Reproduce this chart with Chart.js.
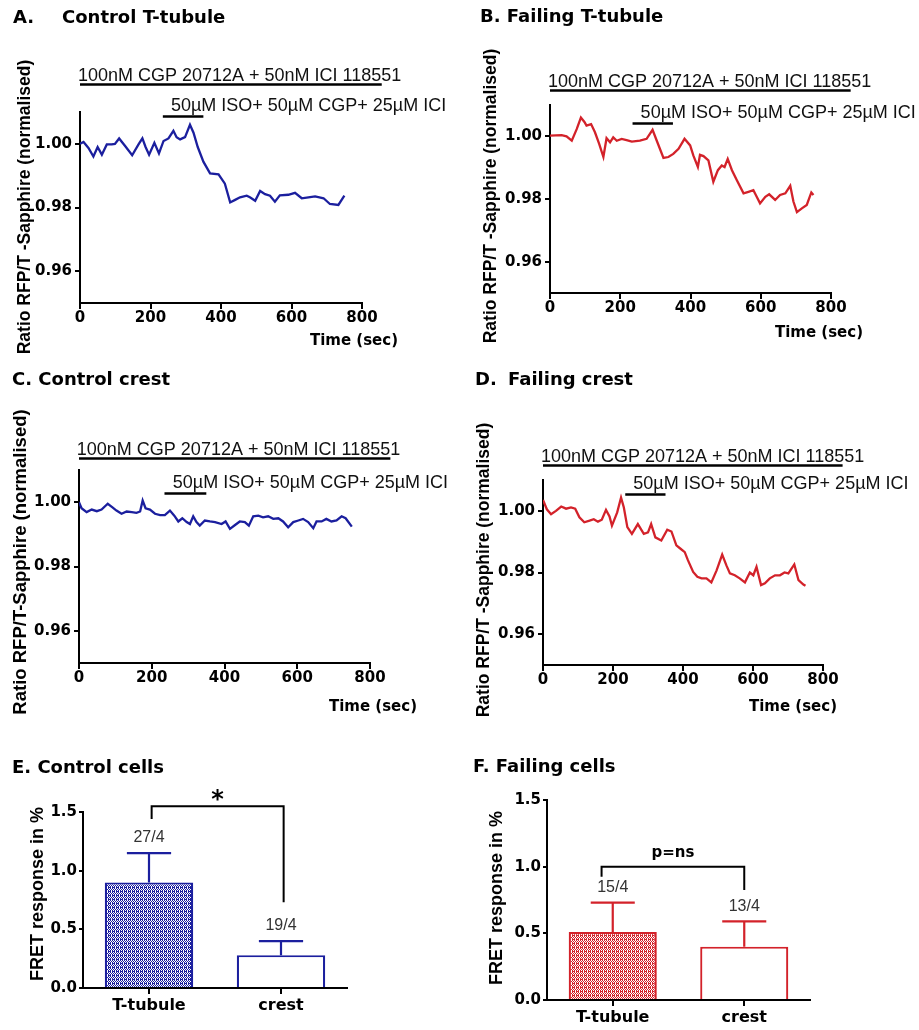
<!DOCTYPE html>
<html>
<head>
<meta charset="utf-8">
<script src="https://cdn.jsdelivr.net/npm/chart.js@4.4.1/dist/chart.umd.min.js"></script>
<style>
  html, body { margin: 0; padding: 0; background: #fff; }
  #figure { position: relative; width: 919px; height: 1030px; }
  #figure canvas { position: absolute; left: 0; top: 0; }
</style>
</head>
<body>
<div id="figure">
  <canvas id="panelA" width="919" height="1030"></canvas>
  <canvas id="panelB" width="919" height="1030"></canvas>
  <canvas id="panelC" width="919" height="1030"></canvas>
  <canvas id="panelD" width="919" height="1030"></canvas>
  <canvas id="panelE" width="919" height="1030"></canvas>
  <canvas id="panelF" width="919" height="1030"></canvas>
</div>
<script>
// ---- FRET ratio traces (time in sec, normalised RFP/T-Sapphire ratio) ----
const timeA = [0,10,24,38,50,62,76,90,99,111,128,148,166,177,186,196,211,224,237,251,265,274,284,298,312,322,334,350,369,393,411,426,440,454,473,482,497,511,525,539,553,567,591,610,629,648,667,691,709,733,750];
const ratioA = [1.000,1.0006,0.9987,0.9960,0.9990,0.9966,0.9998,0.9998,1.0000,1.0017,0.9993,0.9964,0.9998,1.0017,0.9990,0.9966,1.0003,0.9970,1.0009,1.0017,1.0041,1.0021,1.0014,1.0021,1.0060,1.0035,0.9990,0.9944,0.9907,0.9904,0.9875,0.9816,0.9824,0.9832,0.9837,0.9832,0.9821,0.9852,0.9842,0.9837,0.9818,0.9838,0.9840,0.9846,0.9829,0.9832,0.9835,0.9829,0.9811,0.9808,0.9837];

const timeB = [0,33,47,62,76,88,98,104,117,128,140,152,161,171,180,190,204,218,233,256,275,292,304,323,337,351,366,383,399,408,421,427,437,451,465,478,489,497,506,518,532,551,565,579,586,598,613,624,641,655,670,684,693,703,717,731,744,750];
const ratioB = [1.0002,1.0004,1.0000,0.9986,1.0023,1.0060,1.0046,1.0034,1.0039,1.0013,0.9976,0.9934,0.9994,0.9981,0.9997,0.9986,0.9992,0.9988,0.9983,0.9986,0.9992,1.0021,0.9986,0.9931,0.9934,0.9944,0.9960,0.9992,0.9971,0.9939,0.9902,0.9941,0.9937,0.9923,0.9855,0.9892,0.9907,0.9902,0.9928,0.9892,0.9860,0.9818,0.9823,0.9828,0.9813,0.9786,0.9807,0.9815,0.9797,0.9813,0.9818,0.9842,0.9792,0.9758,0.9770,0.9781,0.9821,0.9813];

const timeC = [0,7,21,35,49,62,79,92,103,117,131,145,158,168,175,183,195,209,223,236,250,262,273,284,296,305,314,323,332,346,360,374,392,403,415,429,442,456,467,479,493,506,520,534,548,561,575,589,603,616,630,644,653,667,680,694,708,722,733,750];
const ratioC = [1.0000,0.9981,0.9969,0.9977,0.9972,0.9977,0.9995,0.9984,0.9974,0.9964,0.9971,0.9969,0.9967,0.9971,1.0005,0.9981,0.9977,0.9964,0.9960,0.9960,0.9974,0.9958,0.9940,0.9950,0.9938,0.9932,0.9956,0.9938,0.9927,0.9943,0.9940,0.9938,0.9932,0.9940,0.9917,0.9929,0.9940,0.9938,0.9927,0.9956,0.9958,0.9953,0.9956,0.9948,0.9950,0.9940,0.9922,0.9938,0.9943,0.9948,0.9938,0.9919,0.9940,0.9940,0.9948,0.9940,0.9943,0.9956,0.9950,0.9924];

const timeD = [0,11,23,37,52,66,80,92,104,118,133,145,157,168,180,190,197,212,223,231,241,254,271,288,300,309,321,338,355,367,381,393,405,414,429,441,453,467,481,496,512,524,534,548,562,577,591,601,610,623,634,648,663,677,690,701,718,730,744,750];
const ratioD = [1.0035,1.0005,0.9989,1.0000,1.0014,1.0007,1.0011,1.0007,0.9979,0.9963,0.9968,0.9973,0.9965,0.9971,1.0003,0.9982,0.9952,0.9995,1.0043,1.0011,0.9947,0.9925,0.9957,0.9925,0.9930,0.9957,0.9914,0.9904,0.9939,0.9933,0.9888,0.9877,0.9866,0.9840,0.9802,0.9786,0.9781,0.9781,0.9768,0.9807,0.9858,0.9823,0.9797,0.9791,0.9781,0.9768,0.9800,0.9791,0.9818,0.9759,0.9765,0.9781,0.9791,0.9791,0.9800,0.9797,0.9826,0.9775,0.9761,0.9757];

const ratioTicks = [0.96, 0.98, 1.00];

// drug applications: span in sec, bar height in ratio units (A, B, C, D)
const drugLabels = ['100nM CGP 20712A + 50nM ICI 118551', '50\u00b5M ISO+ 50\u00b5M CGP+ 25\u00b5M ICI'];
const blockerSpan = [0, 856];
const agonistSpan = [235, 350];
const blockerLevels = [1.0187, 1.0147, 1.0137, 1.0150];
const agonistLevels = [1.0088, 1.0044, 1.0029, 1.0053];

// ---- FRET response summary (mean, SEM, cells/animals) ----
const cellTypes = ['T-tubule', 'crest'];
const controlMean = [0.90, 0.28];
const controlSem = [0.25, 0.12];
const controlN = ['27/4', '19/4'];
const failingMean = [0.51, 0.40];
const failingSem = [0.22, 0.19];
const failingN = ['15/4', '13/4'];

// significance brackets: leg positions (category index), [left foot, top, right foot]
const controlBracketX = [0.02, 1.02];
const controlBracketY = [1.44, 1.55, 0.73];
const failingBracketX = [-0.085, 1.0];
const failingBracketY = [0.925, 1.0, 0.825];

const PAGE_W = 919, PAGE_H = 1030;
const BOLD = "'DejaVu Sans', sans-serif";
const ARIAL = "'Liberation Sans', Arial, sans-serif";
const BLUE = '#1b1f9e';
const RED = '#d3222a';

// free text, drug bars and brackets drawn on top of each panel
const decor = {
  id: 'decor',
  afterDraw(chart, args, opts) {
    const ctx = chart.ctx;
    const xs = chart.scales.x, ys = chart.scales.y;
    ctx.save();

    (opts.treatments || []).forEach(t => {
      const py = Math.round(ys.getPixelForValue(t.level)) + 0.5;
      ctx.strokeStyle = '#000';
      ctx.lineWidth = 2.5;
      ctx.beginPath();
      ctx.moveTo(xs.getPixelForValue(t.span[0]), py);
      ctx.lineTo(xs.getPixelForValue(t.span[1]), py);
      ctx.stroke();
      ctx.font = '18px ' + ARIAL;
      ctx.fillStyle = '#111';
      ctx.textAlign = 'left';
      ctx.textBaseline = 'alphabetic';
      ctx.fillText(t.label, xs.getPixelForValue(t.labelAt), py - t.gap);
    });

    if (opts.bracket) {
      const b = opts.bracket;
      const x0 = xs.getPixelForValue(b.x[0]);
      const x1 = xs.getPixelForValue(b.x[1]);
      const yTop = ys.getPixelForValue(b.y[1]);
      ctx.strokeStyle = '#000';
      ctx.lineWidth = 2;
      ctx.beginPath();
      ctx.moveTo(x0, ys.getPixelForValue(b.y[0]));
      ctx.lineTo(x0, yTop);
      ctx.lineTo(x1, yTop);
      ctx.lineTo(x1, ys.getPixelForValue(b.y[2]));
      ctx.stroke();
      ctx.font = b.font;
      ctx.fillStyle = '#000';
      ctx.textAlign = 'center';
      ctx.textBaseline = 'middle';
      ctx.fillText(b.mark, (x0 + x1) / 2, ys.getPixelForValue(b.markLevel));
    }

    (opts.texts || []).forEach(t => {
      ctx.save();
      ctx.font = t.font;
      ctx.fillStyle = '#000';
      ctx.textAlign = t.align || 'left';
      ctx.textBaseline = 'middle';
      ctx.translate(t.x, t.y);
      if (t.rotate) ctx.rotate(-Math.PI / 2);
      ctx.fillText(t.text, 0, 0);
      ctx.restore();
    });
    ctx.restore();
  }
};

// upper SEM whiskers and n labels over each bar
const errorBars = {
  id: 'errorBars',
  afterDatasetsDraw(chart, args, opts) {
    const ctx = chart.ctx;
    const ys = chart.scales.y;
    const ds = chart.data.datasets[0];
    const meta = chart.getDatasetMeta(0);
    ctx.save();
    ctx.strokeStyle = opts.color;
    ctx.lineWidth = 2.2;
    meta.data.forEach((bar, i) => {
      const top = ys.getPixelForValue(ds.data[i] + opts.sem[i]);
      const half = bar.width / 4;
      ctx.beginPath();
      ctx.moveTo(bar.x, bar.y);
      ctx.lineTo(bar.x, top);
      ctx.moveTo(bar.x - half, top);
      ctx.lineTo(bar.x + half, top);
      ctx.stroke();
      ctx.font = '16px ' + ARIAL;
      ctx.fillStyle = '#333';
      ctx.textAlign = 'center';
      ctx.textBaseline = 'middle';
      ctx.fillText(opts.counts[i], bar.x, top - 15);
    });
    ctx.restore();
  }
};

function padFor(area, yWidth, xHeight) {
  return {
    left: area.left - yWidth,
    top: area.top,
    right: PAGE_W - area.right,
    bottom: PAGE_H - area.bottom - xHeight
  };
}

function axisStyle(tickLength, pad, size) {
  return {
    border: { display: true, color: '#000', width: 2 },
    grid: { display: true, drawOnChartArea: false, drawTicks: true, tickLength: tickLength, color: '#000', lineWidth: 2 },
    ticks: { color: '#000', padding: pad, font: { family: BOLD, size: size, weight: 'bold', lineHeight: 1 } }
  };
}

function traceChart(id, area, times, ratios, color, k, texts) {
  const xAxis = axisStyle(6, 2, 15);
  const yAxis = axisStyle(5, 3, 15);
  new Chart(document.getElementById(id), {
    type: 'line',
    data: {
      datasets: [{
        data: times.map((t, i) => ({ x: t, y: ratios[i] })),
        borderColor: color,
        borderWidth: 2.3,
        pointRadius: 0,
        tension: 0,
        fill: false
      }]
    },
    options: {
      responsive: false,
      animation: false,
      devicePixelRatio: 1,
      events: [],
      layout: { padding: padFor(area, 60, 40) },
      plugins: {
        legend: { display: false },
        tooltip: { enabled: false },
        decor: {
          treatments: [
            { span: blockerSpan, level: blockerLevels[k], label: drugLabels[0], labelAt: -6, gap: 4 },
            { span: agonistSpan, level: agonistLevels[k], label: drugLabels[1], labelAt: 258, gap: 6 }
          ],
          texts: texts
        }
      },
      scales: {
        x: Object.assign(xAxis, {
          type: 'linear', min: 0, max: 800,
          ticks: Object.assign(xAxis.ticks, { stepSize: 200 }),
          afterFit: s => { s.height = 40; }
        }),
        y: Object.assign(yAxis, {
          type: 'linear', min: 0.95, max: 1.01,
          ticks: Object.assign(yAxis.ticks, { callback: v => v.toFixed(2) }),
          afterBuildTicks: s => { s.ticks = ratioTicks.map(v => ({ value: v })); },
          afterFit: s => { s.width = 60; }
        })
      }
    },
    plugins: [decor]
  });
}

// dotted fill used for the T-tubule bars
function dotPattern(color) {
  const c = document.createElement('canvas');
  c.width = 4; c.height = 4;
  const g = c.getContext('2d');
  g.fillStyle = '#fff';
  g.fillRect(0, 0, 4, 4);
  g.fillStyle = color;
  for (let y = 0; y < 3; y++) {
    for (let x = 0; x < 4; x++) {
      if ((x + y) % 2 === 0) g.fillRect(x, y, 1, 1);
    }
  }
  g.fillRect(0, 3, 3, 1);
  return g.createPattern(c, 'repeat');
}

function barChart(id, area, means, sem, counts, color, bracket, texts) {
  const xAxis = axisStyle(6, 4, 16);
  const yAxis = axisStyle(4, 2, 15);
  new Chart(document.getElementById(id), {
    type: 'bar',
    data: {
      labels: cellTypes,
      datasets: [{
        data: means,
        backgroundColor: [dotPattern(color), '#fff'],
        borderColor: color,
        borderWidth: 2.2,
        barPercentage: 0.67,
        categoryPercentage: 1
      }]
    },
    options: {
      responsive: false,
      animation: false,
      devicePixelRatio: 1,
      events: [],
      layout: { padding: padFor(area, 60, 40) },
      plugins: {
        legend: { display: false },
        tooltip: { enabled: false },
        errorBars: { color: color, sem: sem, counts: counts },
        decor: { bracket: bracket, texts: texts }
      },
      scales: {
        x: Object.assign(xAxis, {
          grid: Object.assign(xAxis.grid, { offset: false }),
          afterFit: s => { s.height = 40; }
        }),
        y: Object.assign(yAxis, {
          min: 0, max: 1.5,
          ticks: Object.assign(yAxis.ticks, { stepSize: 0.5, callback: v => v.toFixed(1) }),
          afterFit: s => { s.width = 60; }
        })
      }
    },
    plugins: [errorBars, decor]
  });
}

const titleFont = 'bold 18px ' + BOLD;
const axisTitleFont = 'bold 15px ' + BOLD;
const ratioTitle = 'Ratio RFP/T -Sapphire (normalised)';

traceChart('panelA', { left: 80, top: 112, right: 362, bottom: 303 }, timeA, ratioA, BLUE, 0, [
  { text: 'A.', x: 13, y: 18, font: titleFont },
  { text: 'Control T-tubule', x: 62, y: 18, font: titleFont },
  { text: ratioTitle, x: 25, y: 207, font: 'bold 17.5px ' + ARIAL, align: 'center', rotate: true },
  { text: 'Time (sec)', x: 398, y: 341, font: axisTitleFont, align: 'right' }
]);

traceChart('panelB', { left: 550, top: 105, right: 831, bottom: 293 }, timeB, ratioB, RED, 1, [
  { text: 'B. Failing T-tubule', x: 480, y: 17, font: titleFont },
  { text: ratioTitle, x: 491, y: 196, font: 'bold 17.5px ' + ARIAL, align: 'center', rotate: true },
  { text: 'Time (sec)', x: 863, y: 333, font: axisTitleFont, align: 'right' }
]);

traceChart('panelC', { left: 79, top: 470, right: 370, bottom: 663 }, timeC, ratioC, BLUE, 2, [
  { text: 'C. Control crest', x: 12, y: 380, font: titleFont },
  { text: 'Ratio RFP/T-Sapphire (normalised)', x: 21, y: 562, font: 'bold 18.5px ' + ARIAL, align: 'center', rotate: true },
  { text: 'Time (sec)', x: 417, y: 707, font: axisTitleFont, align: 'right' }
]);

traceChart('panelD', { left: 543, top: 480, right: 823, bottom: 665 }, timeD, ratioD, RED, 3, [
  { text: 'D.', x: 475, y: 380, font: titleFont },
  { text: 'Failing crest', x: 508, y: 380, font: titleFont },
  { text: ratioTitle, x: 484, y: 570, font: 'bold 17.5px ' + ARIAL, align: 'center', rotate: true },
  { text: 'Time (sec)', x: 837, y: 707, font: axisTitleFont, align: 'right' }
]);

barChart('panelE', { left: 83, top: 812, right: 347, bottom: 988 }, controlMean, controlSem, controlN, BLUE,
  { x: controlBracketX, y: controlBracketY, mark: '*', markLevel: 1.60, font: 'bold 24px ' + BOLD },
  [
    { text: 'E. Control cells', x: 12, y: 768, font: titleFont },
    { text: 'FRET response in %', x: 38, y: 894, font: 'bold 18px ' + ARIAL, align: 'center', rotate: true }
  ]);

barChart('panelF', { left: 547, top: 800, right: 810, bottom: 1000 }, failingMean, failingSem, failingN, RED,
  { x: failingBracketX, y: failingBracketY, mark: 'p=ns', markLevel: 1.10, font: 'bold 15px ' + BOLD },
  [
    { text: 'F. Failing cells', x: 473, y: 767, font: titleFont },
    { text: 'FRET response in %', x: 497, y: 898, font: 'bold 18px ' + ARIAL, align: 'center', rotate: true }
  ]);
</script>
</body>
</html>
